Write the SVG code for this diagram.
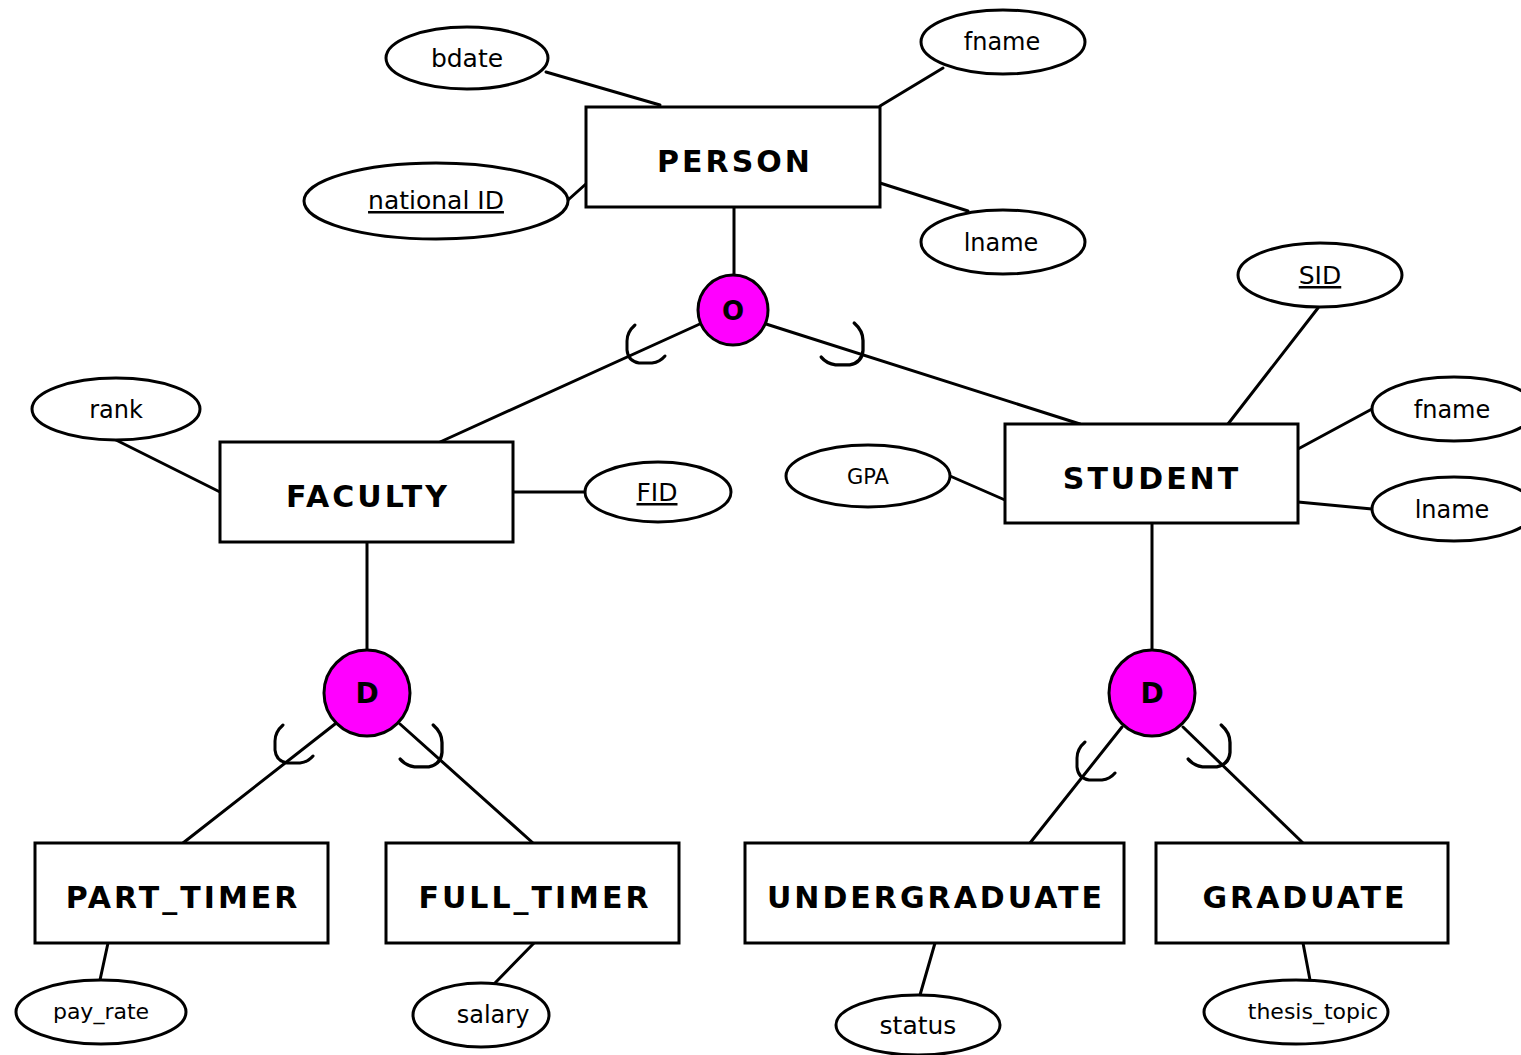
<svg xmlns="http://www.w3.org/2000/svg" width="1521" height="1055" viewBox="0 0 1521 1055">
  <style>
    .entity { fill: #ffffff; stroke: #000000; stroke-width: 3; }
    .attr { fill: #ffffff; stroke: #000000; stroke-width: 3; }
    .spec { fill: #ff00ff; stroke: #000000; stroke-width: 3; }
    .link { stroke: #000000; stroke-width: 3; fill: none; stroke-linecap: round; }
    .subset { stroke: #000000; stroke-width: 3; fill: none; stroke-linecap: round; stroke-linejoin: round; }
    .ename { font-family: "DejaVu Sans", Verdana, sans-serif; font-weight: bold; font-size: 30px; letter-spacing: 3px; text-anchor: middle; fill: #000000; }
    .aname { font-family: "DejaVu Sans", Verdana, sans-serif; font-size: 24px; text-anchor: middle; fill: #000000; }
    .key { text-decoration: underline; }
    .sname { font-family: "DejaVu Sans", Verdana, sans-serif; font-weight: bold; font-size: 28px; text-anchor: middle; fill: #000000; }
  </style>
  <defs>
    <!-- subset symbol, drawn in a 40x40 box -->
    <path id="subset-mark" class="subset" d="M8,0 Q0,7 0,16 L0,25 Q1,36 12,38 L25,38 Q33,37 38,31"/>
  </defs>

  <rect width="1521" height="1055" fill="#ffffff"/>

  <g id="connectors">
    <line class="link" x1="546" y1="72" x2="660" y2="105"/>
    <line class="link" x1="568" y1="200" x2="587" y2="183"/>
    <line class="link" x1="943" y1="68" x2="880" y2="106"/>
    <line class="link" x1="880" y1="183" x2="968" y2="211"/>
    <line class="link" x1="734" y1="207" x2="734" y2="275"/>
    <line class="link" x1="702" y1="323" x2="440" y2="442"/>
    <line class="link" x1="766" y1="324" x2="1080" y2="424"/>
    <line class="link" x1="1318" y1="308" x2="1228" y2="424"/>
    <line class="link" x1="1372" y1="409" x2="1298" y2="449"/>
    <line class="link" x1="1298" y1="502" x2="1372" y2="509"/>
    <line class="link" x1="950" y1="476" x2="1005" y2="500"/>
    <line class="link" x1="116" y1="440" x2="220" y2="492"/>
    <line class="link" x1="513" y1="492" x2="585" y2="492"/>
    <line class="link" x1="367" y1="542" x2="367" y2="650"/>
    <line class="link" x1="335" y1="724" x2="183" y2="843"/>
    <line class="link" x1="400" y1="724" x2="533" y2="843"/>
    <line class="link" x1="1152" y1="523" x2="1152" y2="650"/>
    <line class="link" x1="1122" y1="727" x2="1030" y2="843"/>
    <line class="link" x1="1183" y1="727" x2="1303" y2="843"/>
    <line class="link" x1="108" y1="943" x2="100" y2="980"/>
    <line class="link" x1="534" y1="943" x2="495" y2="983"/>
    <line class="link" x1="935" y1="943" x2="920" y2="995"/>
    <line class="link" x1="1303" y1="943" x2="1310" y2="980"/>
    <!-- subset marks on the specialization branches -->
    <use href="#subset-mark" transform="translate(627,325)"/>
    <use href="#subset-mark" transform="translate(863,323) scale(-1,1) scale(1.1)"/>
    <use href="#subset-mark" transform="translate(275,725)"/>
    <use href="#subset-mark" transform="translate(442,725) scale(-1,1) scale(1.1)"/>
    <use href="#subset-mark" transform="translate(1077,742)"/>
    <use href="#subset-mark" transform="translate(1230,725) scale(-1,1) scale(1.1)"/>
  </g>

  <g id="person">
    <rect class="entity" x="586" y="107" width="294" height="100"/>
    <text class="ename" x="735" y="172">PERSON</text>
  </g>
  <g id="faculty">
    <rect class="entity" x="220" y="442" width="293" height="100"/>
    <text class="ename" x="368" y="507">FACULTY</text>
  </g>
  <g id="student">
    <rect class="entity" x="1005" y="424" width="293" height="99"/>
    <text class="ename" x="1152" y="489">STUDENT</text>
  </g>
  <g id="part-timer">
    <rect class="entity" x="35" y="843" width="293" height="100"/>
    <text class="ename" x="183" y="908">PART_TIMER</text>
  </g>
  <g id="full-timer">
    <rect class="entity" x="386" y="843" width="293" height="100"/>
    <text class="ename" x="535" y="908">FULL_TIMER</text>
  </g>
  <g id="undergraduate">
    <rect class="entity" x="745" y="843" width="379" height="100"/>
    <text class="ename" x="936" y="908">UNDERGRADUATE</text>
  </g>
  <g id="graduate">
    <rect class="entity" x="1156" y="843" width="292" height="100"/>
    <text class="ename" x="1305" y="908">GRADUATE</text>
  </g>

  <g id="person-overlap">
    <circle class="spec" cx="733" cy="310" r="35"/>
    <text class="sname" x="733" y="320" style="font-size:26px">O</text>
  </g>
  <g id="faculty-disjoint">
    <circle class="spec" cx="367" cy="693" r="43"/>
    <text class="sname" x="367" y="703">D</text>
  </g>
  <g id="student-disjoint">
    <circle class="spec" cx="1152" cy="693" r="43"/>
    <text class="sname" x="1152" y="703">D</text>
  </g>

  <g id="attr-bdate">
    <ellipse class="attr" cx="467" cy="58" rx="81" ry="31"/>
    <text class="aname" x="467" y="67" style="font-size:25px">bdate</text>
  </g>
  <g id="attr-national-id">
    <ellipse class="attr" cx="436" cy="201" rx="132" ry="38"/>
    <text class="aname key" x="436" y="209" style="font-size:25px">national ID</text>
  </g>
  <g id="attr-person-fname">
    <ellipse class="attr" cx="1003" cy="42" rx="82" ry="32"/>
    <text class="aname" x="1002" y="50">fname</text>
  </g>
  <g id="attr-person-lname">
    <ellipse class="attr" cx="1003" cy="242" rx="82" ry="32"/>
    <text class="aname" x="1001" y="251">lname</text>
  </g>
  <g id="attr-sid">
    <ellipse class="attr" cx="1320" cy="275" rx="82" ry="32"/>
    <text class="aname key" x="1320" y="284" style="font-size:25px">SID</text>
  </g>
  <g id="attr-student-fname">
    <ellipse class="attr" cx="1454" cy="409" rx="82" ry="32"/>
    <text class="aname" x="1452" y="418">fname</text>
  </g>
  <g id="attr-student-lname">
    <ellipse class="attr" cx="1454" cy="509" rx="82" ry="32"/>
    <text class="aname" x="1452" y="518">lname</text>
  </g>
  <g id="attr-gpa">
    <ellipse class="attr" cx="868" cy="476" rx="82" ry="31"/>
    <text class="aname" x="868" y="484" style="font-size:21px">GPA</text>
  </g>
  <g id="attr-rank">
    <ellipse class="attr" cx="116" cy="409" rx="84" ry="31"/>
    <text class="aname" x="116" y="418">rank</text>
  </g>
  <g id="attr-fid">
    <ellipse class="attr" cx="658" cy="492" rx="73" ry="30"/>
    <text class="aname key" x="657" y="501" style="font-size:25px">FID</text>
  </g>
  <g id="attr-pay-rate">
    <ellipse class="attr" cx="101" cy="1012" rx="85" ry="32"/>
    <text class="aname" x="101" y="1019" style="font-size:22px">pay_rate</text>
  </g>
  <g id="attr-salary">
    <ellipse class="attr" cx="481" cy="1015" rx="68" ry="32"/>
    <text class="aname" x="493" y="1023">salary</text>
  </g>
  <g id="attr-status">
    <ellipse class="attr" cx="918" cy="1025" rx="82" ry="30"/>
    <text class="aname" x="918" y="1034" style="font-size:25px">status</text>
  </g>
  <g id="attr-thesis-topic">
    <ellipse class="attr" cx="1296" cy="1012" rx="92" ry="32"/>
    <text class="aname" x="1313" y="1019" style="font-size:22px">thesis_topic</text>
  </g>
</svg>
